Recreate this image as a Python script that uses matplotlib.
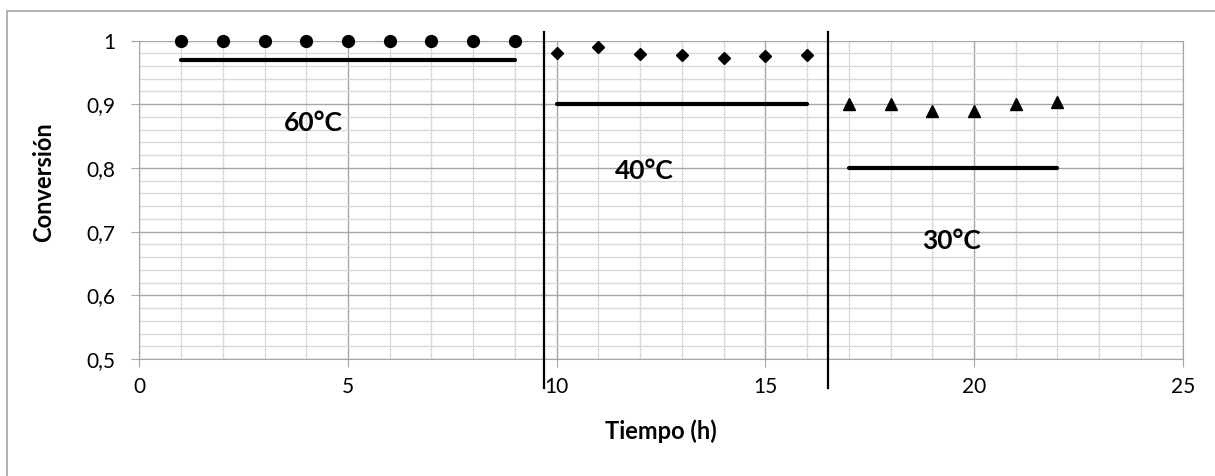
import numpy as np
import matplotlib.pyplot as plt
from matplotlib.patches import Rectangle
from matplotlib.ticker import MultipleLocator, FuncFormatter

plt.rcParams['font.family'] = ['Lato', 'DejaVu Sans']

# datos
t60 = [1, 2, 3, 4, 5, 6, 7, 8, 9]
x60 = [1.0, 1.0, 1.0, 1.0, 1.0, 1.0, 1.0, 1.0, 1.0]
t40 = [10, 11, 12, 13, 14, 15, 16]
x40 = [0.981, 0.990, 0.979, 0.977, 0.972, 0.976, 0.977]
t30 = [17, 18, 19, 20, 21, 22]
x30 = [0.900, 0.900, 0.890, 0.890, 0.901, 0.903]

# lineas de referencia (equilibrio)
ref_t = [[1, 9], [10, 16], [17, 22]]
ref_x = [0.97, 0.90, 0.80]

# separadores verticales
sep_t = [9.7, 16.5]
sep_x = [0.455, 1.013]

labels = ["60°C", "40°C", "30°C"]
label_t = [4.18, 12.1, 19.45]
label_x = [0.870, 0.795, 0.685]

fig = plt.figure(figsize=(12.15, 4.76), dpi=100)
ax = fig.add_axes([0.1147, 0.2458, 0.8587, 0.6691])

ax.set_xlim(0, 25)
ax.set_ylim(0.5, 1.0)
ax.xaxis.set_major_locator(MultipleLocator(5))
ax.xaxis.set_minor_locator(MultipleLocator(1))
ax.yaxis.set_major_locator(MultipleLocator(0.1))
ax.yaxis.set_minor_locator(MultipleLocator(0.02))
ax.yaxis.set_major_formatter(FuncFormatter(lambda v, p: ("%g" % round(v, 2)).replace(".", ",")))

ax.grid(which="major", color="#a6a6a6", lw=1.0, zorder=0)
ax.grid(which="minor", color="#d9d9d9", lw=1.0, zorder=0)
ax.set_axisbelow(True)

ax.spines["top"].set_visible(False)
for s in ["left", "bottom", "right"]:
    ax.spines[s].set_color("#a6a6a6")
ax.tick_params(which="major", length=6, color="#a6a6a6", labelsize=15, pad=7)
ax.tick_params(which="minor", length=0)
ax.tick_params(axis="y", pad=11)

ax.plot(t60, x60, "o", color="black", ms=8.5, clip_on=False, zorder=5)
ax.plot(t40, x40, "D", color="black", ms=6.5, clip_on=False, zorder=5)
ax.plot(t30, x30, "^", color="black", ms=9, clip_on=False, zorder=5)

for tt, xx in zip(ref_t, ref_x):
    ax.plot(tt, [xx, xx], color="black", lw=3, solid_capstyle="round", zorder=4)

for st in sep_t:
    ax.plot([st, st], sep_x, color="black", lw=1.6, clip_on=False, zorder=4)

for txt, tx, ty in zip(labels, label_t, label_x):
    ax.text(tx, ty, txt, fontsize=19, fontweight="bold", ha="center", va="center")

ax.set_xlabel("Tiempo (h)", fontsize=17, fontweight="bold")
ax.set_ylabel("Conversión", fontsize=17, fontweight="bold")
ax.xaxis.set_label_coords(0.5, -0.19)
ax.yaxis.set_label_coords(-0.081, 0.556)

fig.patches.append(Rectangle((7 / 1215, -0.05), 1.1, 1.0269, transform=fig.transFigure,
                             fill=False, edgecolor="#a6a6a6", lw=1.2))

plt.savefig("out.png", dpi=100)
